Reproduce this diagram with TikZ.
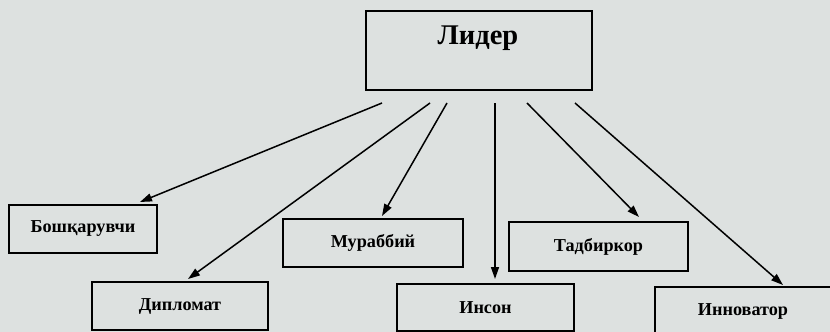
\documentclass[tikz,border=0pt]{standalone}
\usepackage{fontspec}
\setmainfont{Liberation Serif}
\usetikzlibrary{arrows.meta}
\definecolor{paper}{RGB}{221,225,224}
\begin{document}
\begin{tikzpicture}[x=1pt,y=-1pt,
  box/.style={draw=black, line width=1.8pt, fill=paper, inner sep=0pt, outer sep=0pt,
    font=\fontsize{18.2}{21}\selectfont\bfseries},
  arr/.style={line width=1.5pt, -{Triangle[length=12pt,width=8pt]}}]
\fill[paper] (0,0) rectangle (830,332);
\useasboundingbox (0,0) rectangle (830,332);
\clip (0,0) rectangle (830,332);

\node[box, minimum width=226pt, minimum height=79pt] (lider) at (479,50.5) {};
\node[font=\fontsize{28.5}{32}\selectfont\bfseries, inner sep=0pt] (lidertext) at (478,38) {Лидер};

\node[box, minimum width=148pt, minimum height=48pt] (bosh)  at (83,229)    {Бошқарувчи};
\node[box, minimum width=176pt, minimum height=48pt] (dipl)  at (180,306)   {Дипломат};
\node[box, minimum width=180pt, minimum height=48pt] (murab) at (373,243)   {Мураббий};
\node[box, minimum width=177pt, minimum height=47pt] (inson) at (485.5,307.5) {Инсон};
\node[box, minimum width=179pt, minimum height=49pt] (tadb)  at (598.5,246.5) {Тадбиркор};
\node[box, minimum width=176pt, minimum height=48pt] (innov) at (743,311)   {Инноватор};

\draw[arr] ([xshift=-97pt,yshift=-13pt]lider.south) -- ([xshift=57pt,yshift=3pt]bosh.north);
\draw[arr] ([xshift=-49pt,yshift=-13pt]lider.south) -- ([xshift=8pt,yshift=3pt]dipl.north);
\draw[arr] ([xshift=-32pt,yshift=-13pt]lider.south) -- ([xshift=9pt,yshift=3pt]murab.north);
\draw[arr] ([xshift=16pt,yshift=-13pt]lider.south) -- ([xshift=9.5pt,yshift=5pt]inson.north);
\draw[arr] ([xshift=48pt,yshift=-13pt]lider.south) -- ([xshift=40.5pt,yshift=5pt]tadb.north);
\draw[arr] ([xshift=96pt,yshift=-13pt]lider.south) -- ([xshift=40pt,yshift=2pt]innov.north);
\end{tikzpicture}
\end{document}
